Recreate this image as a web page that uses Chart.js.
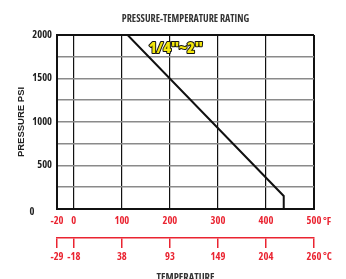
<!DOCTYPE html>
<html><head><meta charset="utf-8">
<script src="https://cdn.jsdelivr.net/npm/chart.js@4"></script>
<style>html,body{margin:0;padding:0;background:#fff}#wrap{width:346px;height:279px}</style>
</head><body><div id="wrap"><canvas id="c" width="346" height="279"></canvas></div>
<script>
// ---- data ----
const fTickValues = [-35, 0, 100, 200, 300, 400, 500];      // axis stops (°F scale)
const fTickLabels = ["-20", "0", "100", "200", "300", "400", "500"];
const cTickLabels = ["-29", "-18", "38", "93", "149", "204", "260"];
const psiTicks = [0, 250, 500, 750, 1000, 1250, 1500, 1750, 2000];
const ratingTempF = [112, 437, 437];
const ratingPsi   = [2000, 150, 0];
const seriesLabel = '1/4"~2"';
const chartTitle = 'PRESSURE-TEMPERATURE RATING';
const yTitle = 'PRESSURE PSI';
const xTitle = 'TEMPERATURE';

const RED = '#ea2431';
const COND = '"Open Sans", "Liberation Sans", sans-serif';
const CW = 'condensed bold';
const SANS = '"Liberation Sans", Arial, sans-serif';

const extras = {
  id: 'extras',
  afterDraw(chart) {
    const {ctx, scales} = chart;
    const x = scales.x, y = scales.y;
    ctx.save();
    // "0" label on pressure axis
    ctx.font = 'condensed bold 10.5px ' + COND;
    ctx.fillStyle = '#222';
    ctx.textAlign = 'center'; ctx.textBaseline = 'middle';
    ctx.fillText('0', 32, y.getPixelForValue(0) + 3);
    // unit labels
    ctx.fillStyle = RED;
    ctx.textAlign = 'left';
    ctx.fillText('°F', x.right + 9, 222);
    ctx.fillText('°C', x.right + 9, 257);
    // series annotation
    ctx.font = 'condensed 800 16px ' + COND;
    ctx.textAlign = 'center';
    ctx.lineWidth = 2;
    ctx.strokeStyle = '#111';
    ctx.lineJoin = 'round';
    const ax = x.getPixelForValue(212), ay = y.getPixelForValue(1845);
    ctx.strokeText(seriesLabel, ax, ay);
    ctx.fillStyle = '#f2e60c';
    ctx.fillText(seriesLabel, ax, ay);
    ctx.restore();
  }
};

new Chart(document.getElementById('c'), {
  type: 'scatter',
  data: {
    datasets: [{
      data: ratingTempF.map((t, i) => ({x: t, y: ratingPsi[i]})),
      showLine: true,
      borderColor: '#111',
      borderWidth: 2,
      pointRadius: 0,
      tension: 0
    }]
  },
  options: {
    responsive: false,
    animation: false,
    layout: {padding: {left: 0, right: 32, top: 0, bottom: 0}},
    plugins: {
      legend: {display: false},
      tooltip: {enabled: false},
      title: {
        display: true, text: chartTitle, color: '#333', fullSize: false,
        font: {family: COND, size: 10, weight: CW},
        padding: {top: 13, bottom: 10}
      }
    },
    scales: {
      x: {
        type: 'linear', position: 'bottom', min: -35, max: 500,
        afterBuildTicks: s => { s.ticks = fTickValues.map(v => ({value: v})); },
        afterFit: s => { s.height = 29; },
        ticks: {
          callback: (v, i) => fTickLabels[i],
          color: RED, font: {family: COND, size: 10.5, weight: CW},
          padding: 6, maxRotation: 0, autoSkip: false
        },
        grid: {
          drawTicks: false,
          color: '#111',
          lineWidth: ctx => (ctx.index === 0 || ctx.index === fTickValues.length - 1) ? 2 : 1.2
        },
        border: {display: true, color: '#111', width: 2}
      },
      x2: {
        type: 'linear', position: 'bottom', min: -35, max: 500,
        afterBuildTicks: s => { s.ticks = fTickValues.map(v => ({value: v})); },
        afterFit: s => { s.height = 41; },
        ticks: {
          callback: (v, i) => cTickLabels[i],
          color: RED, font: {family: COND, size: 10.5, weight: CW},
          padding: 3, maxRotation: 0, autoSkip: false
        },
        grid: {drawOnChartArea: false, color: RED, tickLength: 10, lineWidth: 1.5},
        border: {display: true, color: RED, width: 1.5},
        title: {
          display: true, text: xTitle, color: '#333',
          font: {family: COND, size: 10.5, weight: CW},
          padding: {top: 0, bottom: -5}
        }
      },
      y: {
        type: 'linear', min: 0, max: 2000,
        afterBuildTicks: s => { s.ticks = psiTicks.map(v => ({value: v})); },
        afterFit: s => { s.width = 57; },
        ticks: {
          callback: v => (v > 0 && v % 500 === 0) ? String(v) : '',
          color: '#222', font: {family: COND, size: 10.5, weight: CW},
          padding: 5, autoSkip: false
        },
        grid: {
          drawTicks: false,
          color: ctx => (ctx.tick && (ctx.tick.value === 0 || ctx.tick.value === 2000)) ? '#111' : '#8a8a8a',
          lineWidth: ctx => (ctx.tick && (ctx.tick.value === 0 || ctx.tick.value === 2000)) ? 2 : 1.6
        },
        border: {display: true, color: '#111', width: 2},
        title: {
          display: true, text: yTitle, color: '#222',
          font: {family: SANS, size: 9.5, weight: 'bold'},
          padding: {top: 16, bottom: 0}
        }
      }
    }
  },
  plugins: [extras]
});
</script></body></html>
